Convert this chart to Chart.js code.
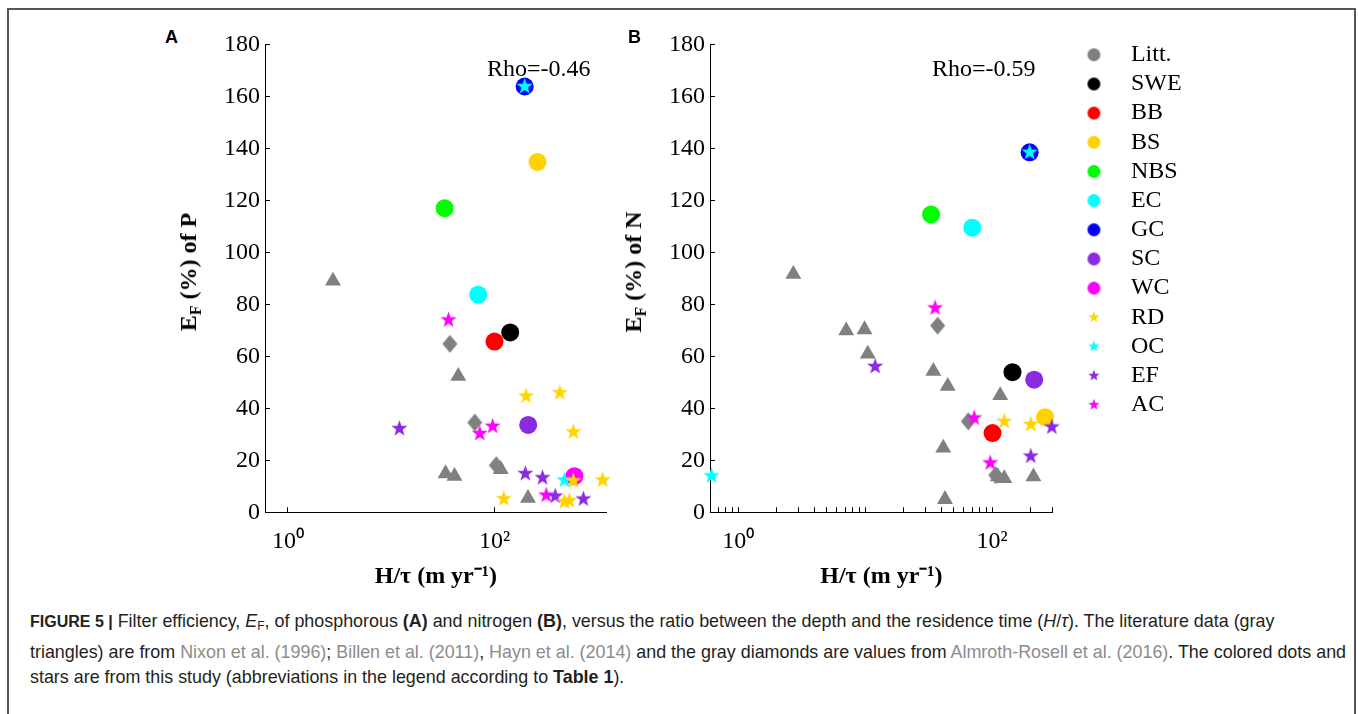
<!DOCTYPE html>
<html>
<head>
<meta charset="utf-8">
<script src="https://cdn.jsdelivr.net/npm/chart.js@4.4.1/dist/chart.umd.min.js"></script>
<style>
  body { margin: 0; width: 1358px; height: 714px; background: #fff; position: relative; overflow: hidden; }
  #frame { position: absolute; left: 7px; top: 8px; width: 1345px; height: 720px; border: 2px solid #555; border-bottom: none; }
  canvas { position: absolute; }
  .panel { position: absolute; font: bold 18px 'Liberation Sans', Arial, sans-serif; line-height: 18px; }
  .rho { position: absolute; font: 24px 'Liberation Serif', serif; line-height: 24px; }
  .ytitle { position: absolute; font: bold 24px 'Liberation Serif', serif; white-space: nowrap;
            transform: translate(-50%, -50%) rotate(-90deg); }
  .ytitle sub { font-size: 16px; vertical-align: -5px; }
  #cap { position: absolute; left: 30px; top: 609px; font: 17.9px 'Liberation Sans', Arial, sans-serif;
         line-height: 25.5px; color: #231f20; white-space: nowrap; }
  #cap .fig { font-size: 16px; }
  #cap .ref { color: #8c8c8c; }
  #cap sub { font-size: 12px; vertical-align: -3px; }
</style>
</head>
<body>
<div id="frame"></div>
<canvas id="chartA" width="430" height="580" style="left:195px; top:20px;"></canvas>
<canvas id="chartB" width="547" height="580" style="left:640px; top:20px;"></canvas>
<div class="panel" style="left:165px; top:28px;">A</div>
<div class="panel" style="left:628px; top:28px;">B</div>
<div class="rho" style="left:487px; top:56px;">Rho=-0.46</div>
<div class="rho" style="left:932px; top:56px;">Rho=-0.59</div>
<div class="ytitle" style="left:190px; top:272px;">E<sub>F</sub> (%) of P</div>
<div class="ytitle" style="left:635px; top:272px;">E<sub>F</sub> (%) of N</div>
<div id="cap">
<b class="fig">FIGURE 5 |</b> Filter efficiency, <i>E</i><sub>F</sub>, of phosphorous <b>(A)</b> and nitrogen <b>(B)</b>, versus the ratio between the depth and the residence time (<i>H</i>/<i>τ</i>). The literature data (gray<br>
triangles) are from <span class="ref">Nixon et al. (1996)</span>; <span class="ref">Billen et al. (2011)</span>, <span class="ref">Hayn et al. (2014)</span> and the gray diamonds are values from <span class="ref">Almroth-Rosell et al. (2016)</span>. The colored dots and<br>
stars are from this study (abbreviations in the legend according to <b>Table 1</b>).
</div>
<script>
// ---- panel A: phosphorus ----
var pTriX = [2.73, 44.6, 33.6, 41, 115, 211];
var pTriY = [89, 52.4, 14.9, 13.9, 16.5, 5.4];
var pDiaX = [37, 64.4, 104];
var pDiaY = [64.8, 34.5, 18.1];
var pSWE = [[142], [69.2]];
var pBB = [[100], [65.7]];
var pBS = [[261], [134.8]];
var pNBS = [[32.9], [117]];
var pEC = [[69.5], [83.7]];
var pGC = [[196], [163.8]];
var pSC = [[212], [33.6]];
var pWC = [[594], [13.9]];
var pRDx = [202, 429, 581, 123, 475, 531, 581, 1114];
var pRDy = [44.7, 46, 30.9, 5.2, 4.1, 4.5, 12.1, 12.4];
var pOCx = [196, 475];
var pOCy = [163.8, 12.4];
var pEFx = [12.0, 199, 292, 387, 725];
var pEFy = [32.2, 14.9, 13.3, 6.2, 5.1];
var pACx = [35.9, 72, 96, 317];
var pACy = [74.0, 30.3, 33.1, 6.6];

// ---- panel B: nitrogen ----
var nTriX = [2.72, 7.1, 9.9, 10.5, 34.5, 44.8, 116, 41.3, 42.6, 111, 125, 212];
var nTriY = [91.6, 69.9, 70.3, 60.9, 54.3, 48.5, 45, 24.8, 5, 13.7, 13.0, 13.7];
var nDiaX = [37.3, 65, 107];
var nDiaY = [71.8, 35, 14.3];
var nSWE = [[145], [53.9]];
var nBB = [[101], [30.5]];
var nBS = [[262], [36.6]];
var nNBS = [[33.1], [114.6]];
var nEC = [[69.9], [109.5]];
var nGC = [[198], [138.5]];
var nSC = [[215], [51]];
var nWC = [[], []];
var nRDx = [125, 202];
var nRDy = [35, 33.8];
var nOCx = [0.617, 198];
var nOCy = [14, 138.5];
var nEFx = [12.0, 202, 296];
var nEFy = [56.1, 21.6, 32.8];
var nACx = [35.6, 72.4, 96.8];
var nACy = [78.6, 36.3, 19.0];

// axes
var yTicks = [0, 20, 40, 60, 80, 100, 120, 140, 160, 180];
var xTicksA = [1, 100];
var xTicksB = [0.7, 0.8, 0.9, 1, 2, 3, 4, 5, 6, 7, 8, 9, 10, 20, 30, 40, 50, 60, 70, 80, 90, 100, 200, 300];
var xTickLabels = { 1: '10\u2070', 100: '10\u00b2' };

// legend
var legendNames = ['Litt.', 'SWE', 'BB', 'BS', 'NBS', 'EC', 'GC', 'SC', 'WC', 'RD', 'OC', 'EF', 'AC'];
var colors = {
    gray: '#808080', SWE: '#000000', BB: '#ff0000', BS: '#ffd200', NBS: '#00ff00', EC: '#00ffff',
    GC: '#0000ff', SC: '#8a2be2', WC: '#ff00ff', RD: '#ffd200', OC: '#00ffff', EF: '#8a2be2', AC: '#ff00ff'
};
var legendColors = [colors.gray, colors.SWE, colors.BB, colors.BS, colors.NBS, colors.EC, colors.GC,
    colors.SC, colors.WC, colors.RD, colors.OC, colors.EF, colors.AC];

// marker images
function starImage(color, R, dx) {
    var c = document.createElement('canvas');
    var s = Math.ceil(R * 2 + 2);
    c.width = s + 2 * Math.abs(dx || 0);
    c.height = s;
    var g = c.getContext('2d');
    var cx = c.width / 2 + (dx || 0), cy = s / 2;
    g.fillStyle = color;
    g.beginPath();
    for (var i = 0; i < 10; i++) {
        var r = i % 2 ? R * 0.4 : R;
        var a = -Math.PI / 2 + i * Math.PI / 5;
        g.lineTo(cx + r * Math.cos(a), cy + r * Math.sin(a));
    }
    g.closePath();
    g.fill();
    return c;
}
function circleImage(color, R, dx) {
    var c = document.createElement('canvas');
    var s = Math.ceil(R * 2 + 2);
    c.width = s + 2 * Math.abs(dx || 0);
    c.height = s;
    var g = c.getContext('2d');
    g.fillStyle = color;
    g.beginPath();
    g.arc(c.width / 2 + (dx || 0), s / 2, R, 0, Math.PI * 2);
    g.fill();
    return c;
}
function diamondImage(color, hw, hh) {
    var c = document.createElement('canvas');
    c.width = Math.ceil(hw * 2 + 2);
    c.height = Math.ceil(hh * 2 + 2);
    var g = c.getContext('2d');
    var cx = c.width / 2, cy = c.height / 2;
    g.fillStyle = color;
    g.beginPath();
    g.moveTo(cx, cy - hh); g.lineTo(cx + hw, cy); g.lineTo(cx, cy + hh); g.lineTo(cx - hw, cy);
    g.closePath();
    g.fill();
    return c;
}

// legend markers sit a little right of the default box centre
var legendShift = 5.5;
var legendImages = legendNames.map(function (n, i) {
    return i < 9 ? circleImage(legendColors[i], 6.5, legendShift) : starImage(legendColors[i], 6, legendShift);
});

function pts(xs, ys) {
    return xs.map(function (x, i) { return { x: x, y: ys[i] }; });
}

function circleSet(label, arr, color) {
    return { label: label, data: pts(arr[0], arr[1]), pointStyle: 'circle', pointRadius: 9,
             backgroundColor: color, borderWidth: 0, order: 1 };
}
function starSet(label, xs, ys, color) {
    return { label: label, data: pts(xs, ys), pointStyle: starImage(color, 8.5), pointRadius: 9,
             backgroundColor: color, borderWidth: 0, order: 0 };
}

function buildDatasets(d) {
    return [
        { label: 'Litt.', data: pts(d.triX, d.triY), pointStyle: 'triangle', pointRadius: 9.2,
          backgroundColor: colors.gray, borderWidth: 0, order: 2 },
        { label: 'Litt. (diamonds)', data: pts(d.diaX, d.diaY), pointStyle: diamondImage(colors.gray, 7.5, 9),
          pointRadius: 9, backgroundColor: colors.gray, borderWidth: 0, order: 2 },
        circleSet('SWE', d.SWE, colors.SWE),
        circleSet('BB', d.BB, colors.BB),
        circleSet('BS', d.BS, colors.BS),
        circleSet('NBS', d.NBS, colors.NBS),
        circleSet('EC', d.EC, colors.EC),
        circleSet('GC', d.GC, colors.GC),
        circleSet('SC', d.SC, colors.SC),
        circleSet('WC', d.WC, colors.WC),
        starSet('RD', d.RDx, d.RDy, colors.RD),
        starSet('OC', d.OCx, d.OCy, colors.OC),
        starSet('EF', d.EFx, d.EFy, colors.EF),
        starSet('AC', d.ACx, d.ACy, colors.AC)
    ];
}

var serif = "'Liberation Serif', 'Times New Roman', serif";

function makeChart(id, d, xMin, xMax, xTicks, showLegend) {
    var ctx = document.getElementById(id).getContext('2d');
    return new Chart(ctx, {
        type: 'scatter',
        data: { datasets: buildDatasets(d) },
        options: {
            responsive: false,
            animation: false,
            devicePixelRatio: 1,
            clip: false,
            layout: { padding: { top: 6.6, left: 10, right: showLegend ? 0 : 18.3, bottom: 0 } },
            plugins: {
                tooltip: { enabled: false },
                legend: {
                    display: showLegend,
                    position: 'right',
                    align: 'start',
                    onClick: null,
                    // empty title only pushes the entries down
                    title: { display: true, text: ' ', color: '#000', font: { size: 11, lineHeight: 1 }, padding: 0 },
                    labels: {
                        usePointStyle: true,
                        pointStyleWidth: 61,
                        padding: 5.17,
                        color: '#000',
                        font: { family: serif, size: 24 },
                        generateLabels: function () {
                            return legendNames.map(function (n, i) {
                                return { text: n, pointStyle: legendImages[i], fillStyle: legendColors[i],
                                         strokeStyle: legendColors[i], fontColor: '#000', lineWidth: 0, hidden: false };
                            });
                        }
                    }
                }
            },
            scales: {
                x: {
                    type: 'logarithmic',
                    position: 'bottom',
                    min: xMin,
                    max: xMax,
                    afterBuildTicks: function (s) { s.ticks = xTicks.map(function (v) { return { value: v }; }); },
                    afterFit: function (s) { s.height = 87.7; },
                    grid: { display: true, drawOnChartArea: false, drawTicks: true, tickLength: -5, color: '#000', lineWidth: 1 },
                    border: { display: true, color: '#000', width: 1 },
                    ticks: {
                        autoSkip: false, maxRotation: 0, padding: 20, color: '#000',
                        font: { family: serif, size: 24 },
                        callback: function (v) { return xTickLabels[v] || ''; }
                    },
                    title: { display: true, text: 'H/\u03c4 (m yr\u207b\u00b9)', color: '#000',
                             font: { family: serif, size: 24, weight: 'bold' }, padding: { top: 0, bottom: 8.6 } }
                },
                y: {
                    type: 'linear',
                    min: 0,
                    max: 180,
                    afterBuildTicks: function (s) { s.ticks = yTicks.map(function (v) { return { value: v }; }); },
                    afterFit: function (s) { s.width = 60; },
                    grid: { display: true, drawOnChartArea: false, drawTicks: true, tickLength: -5, color: '#000', lineWidth: 1 },
                    border: { display: true, color: '#000', width: 1 },
                    ticks: { padding: 10, color: '#000', font: { family: serif, size: 24 } }
                }
            }
        }
    });
}

var chartA = makeChart('chartA', {
    triX: pTriX, triY: pTriY, diaX: pDiaX, diaY: pDiaY,
    SWE: pSWE, BB: pBB, BS: pBS, NBS: pNBS, EC: pEC, GC: pGC, SC: pSC, WC: pWC,
    RDx: pRDx, RDy: pRDy, OCx: pOCx, OCy: pOCy, EFx: pEFx, EFy: pEFy, ACx: pACx, ACy: pACy
}, 0.617, 1220, xTicksA, false);

var chartB = makeChart('chartB', {
    triX: nTriX, triY: nTriY, diaX: nDiaX, diaY: nDiaY,
    SWE: nSWE, BB: nBB, BS: nBS, NBS: nNBS, EC: nEC, GC: nGC, SC: nSC, WC: nWC,
    RDx: nRDx, RDy: nRDy, OCx: nOCx, OCy: nOCy, EFx: nEFx, EFy: nEFy, ACx: nACx, ACy: nACy
}, 0.617, 301, xTicksB, true);
</script>
</body>
</html>
